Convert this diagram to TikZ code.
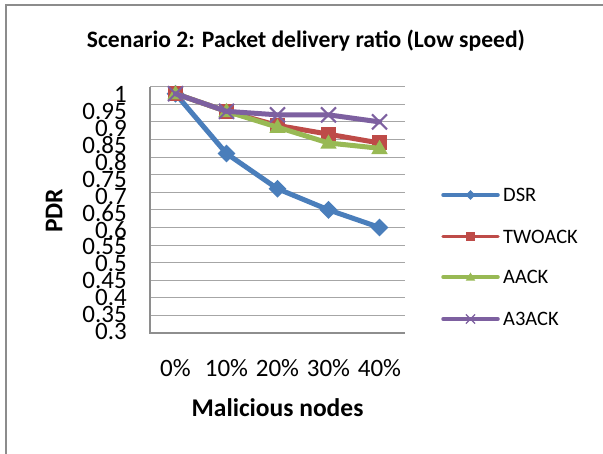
\documentclass[tikz,border=0pt]{standalone}
\usepackage{fontspec}
\setmainfont{Carlito}
\usetikzlibrary{shapes.geometric,shapes.misc}
\definecolor{cdsr}{HTML}{4A7EBB}
\definecolor{ctwo}{HTML}{BE4B48}
\definecolor{caack}{HTML}{98B954}
\definecolor{cathree}{HTML}{7D60A0}
\definecolor{cframe}{HTML}{8C8C8C}
\definecolor{cgrid}{HTML}{A6A6A6}
\definecolor{caxis}{HTML}{8E8E8E}
\tikzset{
  frameline/.style={draw=cframe, line width=2pt},
  gridline/.style={draw=cgrid, line width=1pt},
  axisline/.style={draw=caxis, line width=1.6pt},
  ylab/.style={anchor=east, inner sep=0pt, font=\fontsize{25}{25}\selectfont},
  xlab/.style={inner sep=0pt, font=\fontsize{25}{25}\selectfont},
  ttl/.style={anchor=base, inner sep=0pt, font=\bfseries\fontsize{23.6}{25}\selectfont},
  axttl/.style={inner sep=0pt, font=\bfseries\fontsize{25.5}{27}\selectfont},
  legtxt/.style={anchor=west, inner sep=0pt, font=\fontsize{20.5}{22}\selectfont},
  series/.style={line width=5pt, line join=round, line cap=round},
  legline/.style={line width=3.5pt, line cap=round},
  mdsr/.style={diamond, fill=cdsr, inner sep=0pt, minimum size=#1},
  mtwo/.style={rectangle, fill=ctwo, inner sep=0pt, minimum size=#1},
  maack/.style={regular polygon, regular polygon sides=3, fill=caack, inner sep=0pt, minimum size=#1},
  mthree/.style={cross out, draw=cathree, line width=2pt, inner sep=0pt, minimum size=#1},
}
\newcommand{\YV}[1]{333-(#1-0.3)*351.86}
\begin{document}
\begin{tikzpicture}[x=1pt, y=-1pt]
\useasboundingbox (0,0) rectangle (603,454);
\fill[white] (0,0) rectangle (603,454);
% outer frame (top and left)
\coordinate (fTR) at (603,5);
\coordinate (fTL) at (6,5);
\coordinate (fBL) at (6,454);
\draw[frameline] (fTR) -- (fTL) -- (fBL);
% title
\node[ttl] (title) at (306,47.3) {Scenario 2: Packet delivery ratio (Low speed)};
% gridlines
\foreach \i in {0,...,13} {
  \coordinate (gL\i) at (150,{86.7+\i*17.593});
  \coordinate (gR\i) at (405,{86.7+\i*17.593});
  \draw[gridline] (gL\i) -- (gR\i);
}
\coordinate (axTop) at (150,86.7);
\coordinate (axBot) at (150,333);
\coordinate (axRight) at (405,333);
\draw[axisline] (axTop) -- (axBot) -- (axRight);
% y labels
\foreach \t [count=\i from 0] in {1,0.95,0.9,0.85,0.8,0.75,0.7,0.65,0.6,0.55,0.5,0.45,0.4,0.35,0.3} {
  \node[ylab] (yl\i) at (127,{94.5+\i*16.93}) {\t};
}
% x labels
\foreach \t [count=\i from 0] in {0\%,10\%,20\%,30\%,40\%} {
  \node[xlab] (xl\i) at ({175.5+\i*51},368) {\t};
}
\node[axttl] (xtitle) at (277.5,408) {Malicious nodes};
\node[axttl, rotate=90] (ytitle) at (54,211) {PDR};
% data
\foreach \v [count=\i from 1] in {0.98,0.81,0.71,0.65,0.60} {\coordinate (d\i) at ({175.5+(\i-1)*51},{\YV{\v}});}
\foreach \v [count=\i from 1] in {0.98,0.93,0.89,0.865,0.84} {\coordinate (t\i) at ({175.5+(\i-1)*51},{\YV{\v}});}
\foreach \v [count=\i from 1] in {0.98,0.93,0.885,0.84,0.825} {\coordinate (a\i) at ({175.5+(\i-1)*51},{\YV{\v}});}
\foreach \v [count=\i from 1] in {0.98,0.93,0.92,0.92,0.90} {\coordinate (h\i) at ({175.5+(\i-1)*51},{\YV{\v}});}
% DSR
\draw[series, cdsr] (d1) -- (d2) -- (d3) -- (d4) -- (d5);
\foreach \i in {1,...,5} \node[mdsr=18pt] at (d\i) {};
% TWOACK
\draw[series, ctwo] (t1) -- (t2) -- (t3) -- (t4) -- (t5);
\foreach \i in {1,...,5} \node[mtwo=15pt] at (t\i) {};
% AACK
\draw[series, caack] (a1) -- (a2) -- (a3) -- (a4) -- (a5);
\foreach \i in {1,...,5} \node[maack=19pt, yshift=-1pt] at (a\i) {};
% A3ACK
\draw[series, cathree] (h1) -- (h2) -- (h3) -- (h4) -- (h5);
\foreach \i in {1,...,5} \node[mthree=13pt] at (h\i) {};
% legend
\coordinate (l1a) at (443,195); \coordinate (l1b) at (498,195); \coordinate (l1m) at (470.5,195);
\coordinate (l2a) at (443,236.5); \coordinate (l2b) at (498,236.5); \coordinate (l2m) at (470.5,236.5);
\coordinate (l3a) at (443,277); \coordinate (l3b) at (498,277); \coordinate (l3m) at (470.5,277);
\coordinate (l4a) at (443,319); \coordinate (l4b) at (498,319); \coordinate (l4m) at (470.5,319);
\draw[legline, cdsr] (l1a) -- (l1b); \node[mdsr=10pt] at (l1m) {};
\draw[legline, ctwo] (l2a) -- (l2b); \node[mtwo=9pt] at (l2m) {};
\draw[legline, caack] (l3a) -- (l3b); \node[maack=11pt, yshift=-1pt] at (l3m) {};
\draw[legline, cathree] (l4a) -- (l4b); \node[mthree=8pt, line width=1.2pt] at (l4m) {};
\node[legtxt] (lt1) at (503,195) {DSR};
\node[legtxt] (lt2) at (503,236.5) {TWOACK};
\node[legtxt] (lt3) at (503,277) {AACK};
\node[legtxt] (lt4) at (503,319) {A3ACK};
\end{tikzpicture}
\end{document}
